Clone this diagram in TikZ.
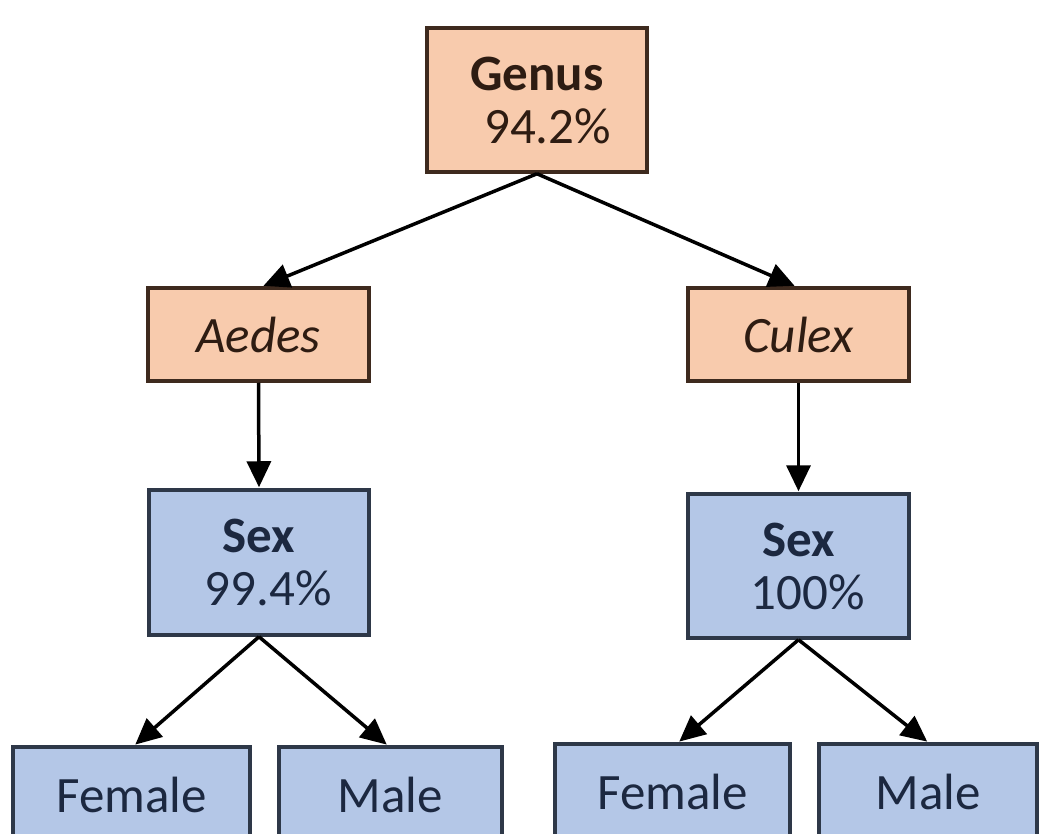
\documentclass[tikz,border=0pt]{standalone}
\usepackage{fontspec}
\setmainfont{Carlito}
\usetikzlibrary{arrows.meta}
\definecolor{orfill}{HTML}{F8CBAD}
\definecolor{ordraw}{HTML}{3E2A1E}
\definecolor{ortext}{HTML}{2E1C12}
\definecolor{blfill}{HTML}{B4C7E7}
\definecolor{bldraw}{HTML}{2E3848}
\definecolor{bltext}{HTML}{1C2840}
\tikzset{
  box/.style={draw, line width=3.5pt, rectangle, inner sep=0pt, align=center,
    font=\fontsize{51}{53}\selectfont},
  orbox/.style={box, fill=orfill, draw=ordraw, text=ortext},
  blbox/.style={box, fill=blfill, draw=bldraw, text=bltext},
  arr/.style={line width=3.5pt, -{Triangle[length=26pt,width=24pt]}, black, shorten >=1pt}
}
\begin{document}
\begin{tikzpicture}[x=1pt,y=-1pt]
\clip (0,0) rectangle (1041,834);
\fill[white] (0,0) rectangle (1041,834);
\node[orbox, minimum width=220pt, minimum height=144pt] (genus) at (537,100)
  {\textbf{Genus}\\\hspace*{0.42em}94.2\%};
\node[orbox, minimum width=221pt, minimum height=93pt] (aedes) at (258.5,334.5) {\textit{Aedes}};
\node[orbox, minimum width=221pt, minimum height=93pt] (culex) at (798.5,334.5) {\textit{Culex}};
\node[blbox, minimum width=220pt, minimum height=145pt] (sexl) at (259,562.5)
  {\textbf{Sex}\\\hspace*{0.36em}99.4\%};
\node[blbox, minimum width=221pt, minimum height=144pt] (sexr) at (798.5,566)
  {\textbf{Sex}\\\hspace*{0.36em}100\%};
\node[blbox, minimum width=237pt, minimum height=96pt] (feml) at (131.5,795) {Female};
\node[blbox, minimum width=223pt, minimum height=96pt] (malel) at (390.5,795) {Male};
\node[blbox, minimum width=235pt, minimum height=96pt] (femr) at (672.5,792) {Female};
\node[blbox, minimum width=218pt, minimum height=96pt] (maler) at (928,792) {Male};
\draw[arr] (genus.south) -- ([xshift=4pt]aedes.north);
\draw[arr] (genus.south) -- ([xshift=-3pt]culex.north);
\draw[arr] (aedes.south) -- (sexl.north);
\draw[arr] (culex.south) -- (sexr.north);
\draw[arr] (sexl.south) -- ([xshift=3pt]feml.north);
\draw[arr] (sexl.south) -- ([xshift=-3pt]malel.north);
\draw[arr] (sexr.south) -- ([xshift=6pt]femr.north);
\draw[arr] (sexr.south) -- (maler.north);
\end{tikzpicture}
\end{document}
